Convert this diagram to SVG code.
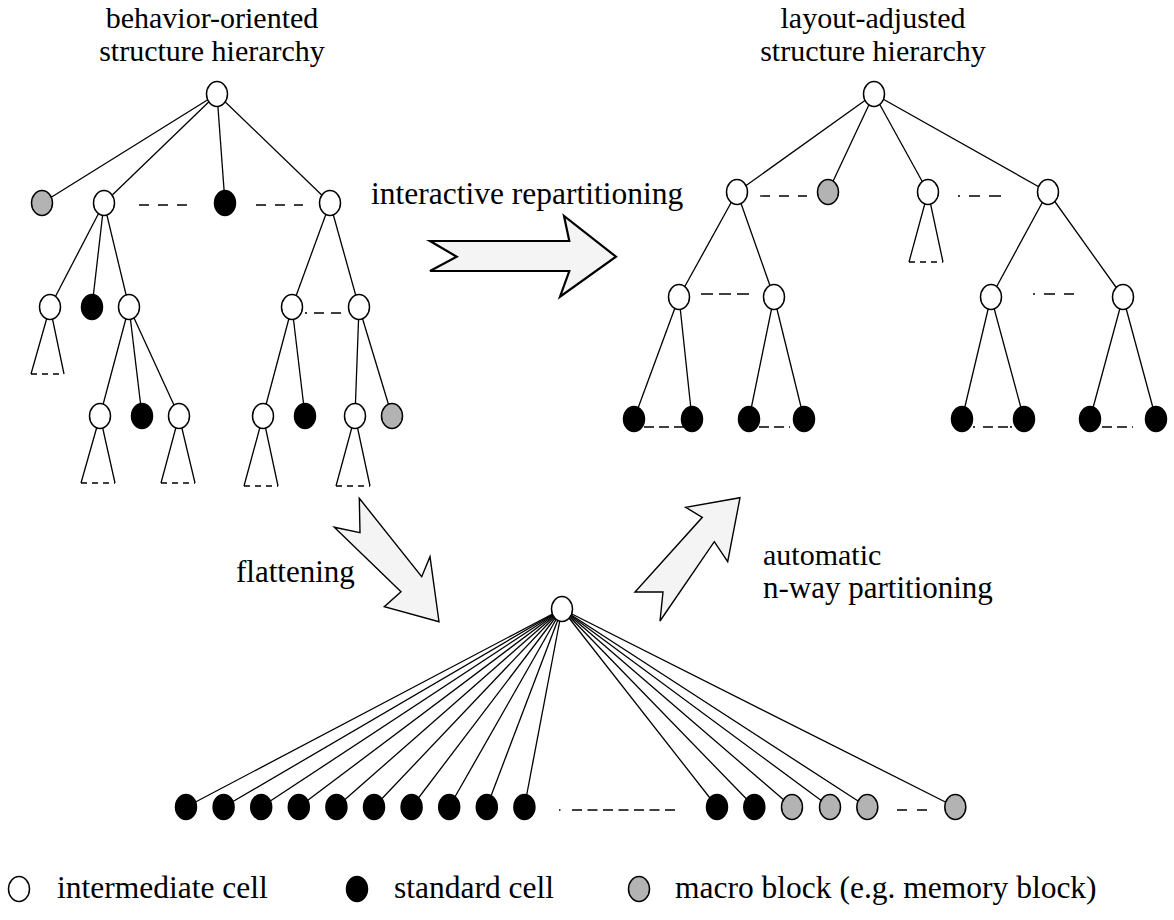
<svg xmlns="http://www.w3.org/2000/svg" width="1174" height="920" viewBox="0 0 1174 920">
<style>
text{font-family:"Liberation Serif","Times New Roman",serif;font-size:31px;fill:#000}
.e{stroke:#000;stroke-width:1.3;fill:none}
.d{stroke:#000;stroke-width:1.3;fill:none;stroke-dasharray:10 9}
.t{stroke:#000;stroke-width:1.3;fill:none;stroke-dasharray:6 5}
ellipse{stroke:#000;stroke-width:1.5}
.w{fill:#fff}
.b{fill:#000}
.g{fill:#b3b3b3}
.arr{fill:#f4f4f4;stroke:#000;stroke-width:1.4;stroke-linejoin:miter}
.two{font-size:30px}
</style>
<defs>
<ellipse id="nd" cx="0" cy="0" rx="10.5" ry="12.5"/>
</defs>

<g id="titles">
<text class="two" x="212" y="28" text-anchor="middle">behavior-oriented</text>
<text class="two" x="212" y="61" text-anchor="middle">structure hierarchy</text>
<text class="two" x="873" y="28" text-anchor="middle">layout-adjusted</text>
<text class="two" x="873" y="61" text-anchor="middle">structure hierarchy</text>
</g>

<g id="connectors">
<!-- left tree -->
<line class="e" x1="217" y1="94" x2="42" y2="203"/>
<line class="e" x1="217" y1="94" x2="104" y2="203"/>
<line class="e" x1="217" y1="94" x2="225" y2="203"/>
<line class="e" x1="217" y1="94" x2="330" y2="203"/>
<line class="d" x1="139" y1="205" x2="187" y2="205"/>
<line class="d" x1="256" y1="205" x2="303" y2="205"/>
<line class="e" x1="104" y1="203" x2="50" y2="307"/>
<line class="e" x1="104" y1="203" x2="92" y2="307"/>
<line class="e" x1="104" y1="203" x2="129" y2="307"/>
<line class="e" x1="330" y1="203" x2="292" y2="307"/>
<line class="e" x1="330" y1="203" x2="359" y2="307"/>
<path class="e" style="stroke-dasharray:2 7 10 7 10" d="M305 313H342"/>
<line class="e" x1="129" y1="307" x2="100" y2="416"/>
<line class="e" x1="129" y1="307" x2="142" y2="416"/>
<line class="e" x1="129" y1="307" x2="179" y2="416"/>
<line class="e" x1="292" y1="307" x2="263" y2="416"/>
<line class="e" x1="292" y1="307" x2="305" y2="416"/>
<line class="e" x1="359" y1="307" x2="355" y2="416"/>
<line class="e" x1="359" y1="307" x2="392" y2="416"/>
<path class="e" d="M31 374L50 307L64 374"/>
<line class="t" x1="31" y1="374" x2="64" y2="374"/>
<path class="e" d="M81 483L100 416L115 483"/>
<line class="t" x1="81" y1="483" x2="115" y2="483"/>
<path class="e" d="M161 483L179 416L195 483"/>
<line class="t" x1="161" y1="483" x2="195" y2="483"/>
<path class="e" d="M244 486L263 416L278 486"/>
<line class="t" x1="244" y1="486" x2="278" y2="486"/>
<path class="e" d="M336 486L355 416L370 486"/>
<line class="t" x1="336" y1="486" x2="370" y2="486"/>

<!-- right tree -->
<line class="e" x1="874" y1="94" x2="737" y2="192"/>
<line class="e" x1="874" y1="94" x2="828" y2="192"/>
<line class="e" x1="874" y1="94" x2="928" y2="192"/>
<line class="e" x1="874" y1="94" x2="1048" y2="192"/>
<line class="d" x1="760" y1="196" x2="807" y2="196"/>
<path class="e" style="stroke-dasharray:2 9 11 9 12" d="M958 196H1001"/>
<path class="e" d="M909 262L928 192L943 262"/>
<line class="t" x1="909" y1="262" x2="943" y2="262"/>
<line class="e" x1="737" y1="192" x2="679" y2="297"/>
<line class="e" x1="737" y1="192" x2="774" y2="297"/>
<line class="e" x1="1048" y1="192" x2="991" y2="297"/>
<line class="e" x1="1048" y1="192" x2="1123" y2="297"/>
<path class="e" style="stroke-dasharray:12 6" d="M701 294H749"/>
<path class="e" style="stroke-dasharray:2 9 11 9 12" d="M1033 294H1074"/>
<line class="e" x1="679" y1="297" x2="634" y2="419"/>
<line class="e" x1="679" y1="297" x2="692" y2="419"/>
<line class="e" x1="774" y1="297" x2="749" y2="419"/>
<line class="e" x1="774" y1="297" x2="804" y2="419"/>
<line class="e" x1="991" y1="297" x2="962" y2="419"/>
<line class="e" x1="991" y1="297" x2="1024" y2="419"/>
<line class="e" x1="1123" y1="297" x2="1090" y2="419"/>
<line class="e" x1="1123" y1="297" x2="1156" y2="419"/>
<path class="e" style="stroke-dasharray:10 5" d="M644 427H685"/>
<path class="e" style="stroke-dasharray:10 5" d="M759 427H790"/>
<path class="e" style="stroke-dasharray:2 8 10 5 10" d="M973 427H1012"/>
<path class="e" style="stroke-dasharray:10 5" d="M1102 427H1133"/>

<!-- flat tree -->
<line class="e" x1="562" y1="609" x2="186" y2="807"/>
<line class="e" x1="562" y1="609" x2="223.6" y2="807"/>
<line class="e" x1="562" y1="609" x2="261.2" y2="807"/>
<line class="e" x1="562" y1="609" x2="298.8" y2="807"/>
<line class="e" x1="562" y1="609" x2="336.4" y2="807"/>
<line class="e" x1="562" y1="609" x2="374" y2="807"/>
<line class="e" x1="562" y1="609" x2="411.6" y2="807"/>
<line class="e" x1="562" y1="609" x2="449.2" y2="807"/>
<line class="e" x1="562" y1="609" x2="486.8" y2="807"/>
<line class="e" x1="562" y1="609" x2="524.4" y2="807"/>
<line class="e" x1="562" y1="609" x2="717" y2="807"/>
<line class="e" x1="562" y1="609" x2="754.3" y2="807"/>
<line class="e" x1="562" y1="609" x2="792" y2="807"/>
<line class="e" x1="562" y1="609" x2="830" y2="807"/>
<line class="e" x1="562" y1="609" x2="867.3" y2="807"/>
<line class="e" x1="562" y1="609" x2="955.3" y2="807"/>
<path class="e" style="stroke-width:1.6;stroke-dasharray:1.5 11.5 10 5.5 10 5.5 10 5.5 10 5.5 10 5.5 10 5.5 10 5.5" d="M559 810H677"/>
<path class="e" style="stroke-width:1.6;stroke-dasharray:10 10" d="M897 810H927"/>
</g>

<g id="arrows">
<polygon class="arr" style="stroke-width:2.2" points="430,241 456.7,256.7 430,271 569.3,271 560,296.7 616,256.7 564,216 569.3,241"/>
<polygon class="arr" points="359.3,498.3 421.7,576.7 430,556.7 439,621.7 384.3,606.7 401,591.7 334.3,527.3 360,532.7"/>
<polygon class="arr" points="740,497.7 727.7,561.7 714.3,541.7 660,621 663,592 635,592 702.3,517.3 685.7,507.3"/>
</g>

<g id="labels">
<text x="371" y="204" style="font-size:31.5px">interactive repartitioning</text>
<text x="236" y="582">flattening</text>
<text class="two" x="763" y="565">automatic</text>
<text class="two" x="763" y="598" style="font-size:31px">n-way partitioning</text>
</g>

<!-- left tree nodes -->
<g id="L-root"><use href="#nd" x="217" y="94" class="w"/></g>
<g id="L1-macro"><use href="#nd" x="42" y="203" class="g"/></g>
<g id="L1-a"><use href="#nd" x="104" y="203" class="w"/></g>
<g id="L1-std"><use href="#nd" x="225" y="203" class="b"/></g>
<g id="L1-b"><use href="#nd" x="330" y="203" class="w"/></g>
<g id="L2-a"><use href="#nd" x="50" y="307" class="w"/></g>
<g id="L2-std"><use href="#nd" x="92" y="307" class="b"/></g>
<g id="L2-b"><use href="#nd" x="129" y="307" class="w"/></g>
<g id="L2-c"><use href="#nd" x="292" y="307" class="w"/></g>
<g id="L2-d"><use href="#nd" x="359" y="307" class="w"/></g>
<g id="L3-a"><use href="#nd" x="100" y="416" class="w"/></g>
<g id="L3-std1"><use href="#nd" x="142" y="416" class="b"/></g>
<g id="L3-b"><use href="#nd" x="179" y="416" class="w"/></g>
<g id="L3-c"><use href="#nd" x="263" y="416" class="w"/></g>
<g id="L3-std2"><use href="#nd" x="305" y="416" class="b"/></g>
<g id="L3-d"><use href="#nd" x="355" y="416" class="w"/></g>
<g id="L3-macro"><use href="#nd" x="392" y="416" class="g"/></g>

<!-- right tree nodes -->
<g id="R-root"><use href="#nd" x="874" y="94" class="w"/></g>
<g id="R1-a"><use href="#nd" x="737" y="192" class="w"/></g>
<g id="R1-macro"><use href="#nd" x="828" y="192" class="g"/></g>
<g id="R1-b"><use href="#nd" x="928" y="192" class="w"/></g>
<g id="R1-c"><use href="#nd" x="1048" y="192" class="w"/></g>
<g id="R2-a"><use href="#nd" x="679" y="297" class="w"/></g>
<g id="R2-b"><use href="#nd" x="774" y="297" class="w"/></g>
<g id="R2-c"><use href="#nd" x="991" y="297" class="w"/></g>
<g id="R2-d"><use href="#nd" x="1123" y="297" class="w"/></g>
<g id="R3-1"><use href="#nd" x="634" y="419" class="b"/></g>
<g id="R3-2"><use href="#nd" x="692" y="419" class="b"/></g>
<g id="R3-3"><use href="#nd" x="749" y="419" class="b"/></g>
<g id="R3-4"><use href="#nd" x="804" y="419" class="b"/></g>
<g id="R3-5"><use href="#nd" x="962" y="419" class="b"/></g>
<g id="R3-6"><use href="#nd" x="1024" y="419" class="b"/></g>
<g id="R3-7"><use href="#nd" x="1090" y="419" class="b"/></g>
<g id="R3-8"><use href="#nd" x="1156" y="419" class="b"/></g>

<!-- flat tree nodes -->
<g id="F-root"><use href="#nd" x="562" y="609" class="w"/></g>
<g id="F-1"><use href="#nd" x="186" y="807" class="b"/></g>
<g id="F-2"><use href="#nd" x="223.6" y="807" class="b"/></g>
<g id="F-3"><use href="#nd" x="261.2" y="807" class="b"/></g>
<g id="F-4"><use href="#nd" x="298.8" y="807" class="b"/></g>
<g id="F-5"><use href="#nd" x="336.4" y="807" class="b"/></g>
<g id="F-6"><use href="#nd" x="374" y="807" class="b"/></g>
<g id="F-7"><use href="#nd" x="411.6" y="807" class="b"/></g>
<g id="F-8"><use href="#nd" x="449.2" y="807" class="b"/></g>
<g id="F-9"><use href="#nd" x="486.8" y="807" class="b"/></g>
<g id="F-10"><use href="#nd" x="524.4" y="807" class="b"/></g>
<g id="F-11"><use href="#nd" x="717" y="807" class="b"/></g>
<g id="F-12"><use href="#nd" x="754.3" y="807" class="b"/></g>
<g id="F-13"><use href="#nd" x="792" y="807" class="g"/></g>
<g id="F-14"><use href="#nd" x="830" y="807" class="g"/></g>
<g id="F-15"><use href="#nd" x="867.3" y="807" class="g"/></g>
<g id="F-16"><use href="#nd" x="955.3" y="807" class="g"/></g>

<g id="legend">
<use href="#nd" x="19" y="889" class="w"/>
<text x="57" y="898" style="font-size:31.5px">intermediate cell</text>
<use href="#nd" x="357" y="889" class="b"/>
<text x="394" y="898" style="font-size:31.5px">standard cell</text>
<use href="#nd" x="639" y="889" class="g"/>
<text x="675" y="898" style="font-size:31.5px">macro block (e.g. memory block)</text>
</g>
</svg>
